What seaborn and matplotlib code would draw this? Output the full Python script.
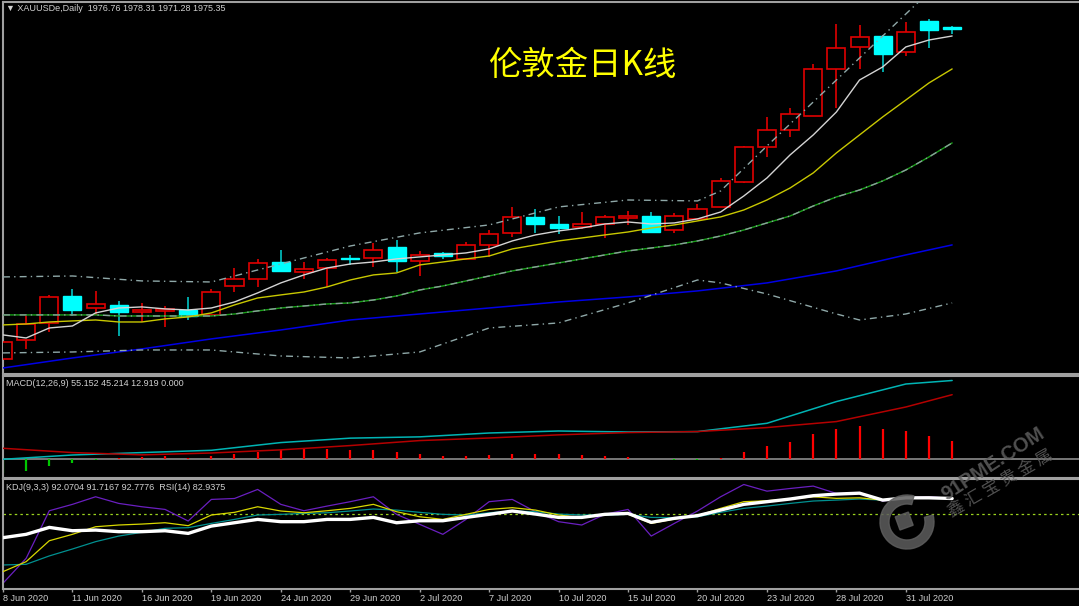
import numpy as np
import matplotlib
matplotlib.use("Agg")
import matplotlib.pyplot as plt
from matplotlib.patches import Wedge, Rectangle
import seaborn as sns

# ---------------- data ----------------
# daily candles, bar 0 = 8 Jun 2020 ... bar 41 = 4 Aug 2020
open_p = [1694.9, 1711.0, 1725.5, 1748.4, 1738.2, 1740.8, 1734.8, 1735.7, 1736.5, 1732.3,
          1756.9, 1762.9, 1777.3, 1768.8, 1772.2, 1780.7, 1780.7, 1790.1, 1778.2, 1785.0,
          1779.9, 1791.8, 1802.0, 1815.6, 1809.6, 1807.1, 1809.6, 1814.7, 1816.4, 1804.5,
          1813.9, 1824.1, 1845.3, 1875.1, 1889.5, 1901.4, 1941.4, 1960.1, 1969.4, 1955.8,
          1982.2, 1976.76]
high_p = [1712.7, 1731.4, 1749.3, 1754.4, 1752.7, 1744.2, 1742.5, 1739.9, 1747.6, 1754.4,
          1772.2, 1779.9, 1787.5, 1777.3, 1780.7, 1783.3, 1793.5, 1796.0, 1786.7, 1785.8,
          1794.3, 1804.5, 1824.1, 1822.4, 1816.4, 1819.8, 1817.3, 1820.7, 1819.8, 1819.0,
          1826.6, 1848.7, 1875.9, 1900.6, 1908.2, 1945.6, 1979.6, 1978.8, 1970.3, 1981.3,
          1983.9, 1978.31]
low_p = [1690.6, 1703.4, 1717.8, 1731.4, 1732.3, 1714.4, 1726.3, 1722.1, 1728.0, 1731.4,
         1751.8, 1756.1, 1768.8, 1762.9, 1756.1, 1774.8, 1773.1, 1768.8, 1765.4, 1779.9,
         1779.0, 1781.6, 1798.6, 1802.0, 1801.1, 1805.4, 1797.7, 1808.8, 1802.0, 1802.0,
         1813.9, 1824.1, 1844.5, 1866.6, 1883.6, 1901.4, 1908.2, 1941.4, 1938.8, 1952.4,
         1959.2, 1971.28]
close_p = [1709.3, 1724.6, 1747.6, 1736.5, 1741.6, 1734.8, 1736.5, 1737.4, 1731.4, 1751.8,
           1762.9, 1776.5, 1769.7, 1771.4, 1779.0, 1779.9, 1787.5, 1778.2, 1783.3, 1782.4,
           1791.8, 1801.1, 1815.6, 1809.6, 1806.2, 1809.6, 1815.6, 1816.4, 1802.8, 1816.4,
           1822.4, 1846.2, 1875.1, 1889.5, 1903.1, 1941.4, 1959.2, 1968.6, 1954.1, 1972.8,
           1974.5, 1975.35]

# moving averages (one value per bar)
ma_white = [1715.3, 1712.7, 1721.2, 1722.9, 1734.0, 1738.2, 1739.1, 1737.4, 1736.5, 1738.2,
            1743.3, 1751.0, 1759.5, 1766.3, 1772.2, 1775.6, 1777.3, 1779.9, 1781.6, 1783.3,
            1785.0, 1788.4, 1795.2, 1800.3, 1803.7, 1806.2, 1809.6, 1811.3, 1809.6, 1810.5,
            1813.9, 1819.8, 1833.4, 1848.7, 1868.3, 1885.3, 1904.8, 1932.0, 1943.1, 1960.1,
            1966.0, 1969.4]
ma_yellow = [1723.8, 1724.6, 1726.3, 1727.2, 1728.0, 1726.3, 1726.3, 1728.9, 1730.6, 1734.0,
             1740.8, 1746.7, 1749.3, 1751.8, 1756.1, 1762.0, 1766.3, 1768.0, 1774.8, 1777.3,
             1779.9, 1782.4, 1788.4, 1791.8, 1795.2, 1797.7, 1800.3, 1802.8, 1806.2, 1808.8,
             1812.2, 1815.6, 1821.5, 1830.0, 1840.2, 1853.0, 1870.0, 1885.3, 1900.6, 1915.0,
             1929.5, 1941.4]
ma_green = [1732.3, 1732.3, 1732.3, 1732.3, 1732.3, 1731.4, 1731.4, 1731.4, 1731.4, 1731.4,
            1733.1, 1735.7, 1738.2, 1739.9, 1741.6, 1742.5, 1745.0, 1748.4, 1753.5, 1756.9,
            1761.2, 1765.4, 1769.7, 1773.1, 1776.5, 1779.9, 1783.3, 1786.7, 1789.2, 1791.8,
            1795.2, 1799.4, 1804.5, 1810.5, 1816.4, 1824.9, 1832.6, 1838.5, 1846.2, 1855.5,
            1866.6, 1878.5]

# slow MA, read every few bars
blue_idx = [0, 3, 6, 9, 12, 15, 18, 21, 24, 27, 30, 33, 36, 39, 41]
ma_blue = [1687.2, 1695.7, 1703.4, 1711.9, 1719.5, 1728.0, 1733.1, 1738.2, 1743.3, 1747.6,
           1752.7, 1759.5, 1769.7, 1783.3, 1791.8]

# bollinger envelope
band_idx = [0, 3, 6, 9, 12, 15, 18, 21, 24, 27, 30, 31, 33, 36, 37, 39, 41]
bb_upper = [1764.6, 1765.4, 1761.2, 1760.3, 1775.6, 1790.9, 1802.0, 1808.8, 1824.1, 1830.0,
            1829.2, 1837.7, 1875.9, 1932.0, 1950.7, 1988.1, 2025.5]
bb_lower = [1700.0, 1700.8, 1702.5, 1702.5, 1697.4, 1695.7, 1700.8, 1721.2, 1725.5, 1742.5,
            1762.0, 1759.5, 1750.1, 1733.1, 1728.0, 1733.1, 1742.5]

# MACD(12,26,9)
macd_idx = [0, 3, 6, 9, 12, 15, 18, 21, 24, 27, 30, 33, 36, 39, 41]
macd_dif = [0.0, 3.0, 4.7, 6.3, 11.7, 14.8, 15.7, 18.4, 19.8, 19.1, 19.4, 25.2, 40.4, 52.7, 55.152]
macd_dea = [7.7, 4.7, 3.1, 4.4, 6.6, 9.6, 13.1, 14.9, 17.1, 18.7, 19.4, 22.2, 26.4, 36.6, 45.214]
macd_hist = [-9.3, -7.9, -4.4, -2.3, -0.2, 1.2, 1.4, 2.1, 1.2, 2.1,
             3.5, 5.4, 6.5, 7.0, 7.0, 6.5, 6.5, 5.1, 4.0, 2.6,
             2.6, 3.0, 4.0, 4.0, 3.5, 3.0, 2.3, 1.9, 0.1, -0.2,
             -0.2, 1.2, 5.4, 9.3, 12.4, 17.7, 21.0, 23.3, 21.2, 19.6,
             16.6, 12.919]

# KDJ(9,3,3) + RSI(14) window
kdj_white = [62.5, 65.0, 70.2, 67.7, 68.2, 67.0, 67.0, 67.7, 65.7, 71.2,
             73.7, 76.2, 74.5, 74.5, 76.2, 76.2, 77.7, 73.7, 75.2, 75.2,
             77.7, 80.0, 82.5, 80.2, 77.7, 77.7, 80.0, 80.7, 74.0, 77.0,
             79.0, 83.2, 87.5, 89.5, 91.5, 94.0, 95.2, 95.9, 90.7, 92.4,
             92.4, 91.9]
kdj_yellow = [37.0, 44.5, 60.2, 65.0, 70.7, 72.0, 72.7, 73.7, 71.5, 79.5,
              81.5, 85.7, 82.5, 81.2, 82.7, 84.5, 87.5, 82.0, 78.2, 76.2,
              80.0, 83.7, 85.0, 83.2, 79.5, 77.5, 80.2, 80.2, 73.2, 76.5,
              79.0, 84.5, 89.5, 90.2, 91.5, 93.2, 92.0, 92.4, 90.7, 92.4,
              92.7, 91.9]
kdj_teal = [42.0, 42.5, 48.8, 54.0, 59.5, 63.7, 66.5, 69.5, 70.0, 73.2,
            76.2, 79.5, 80.0, 80.7, 81.2, 82.5, 84.0, 83.2, 81.5, 80.0,
            79.5, 81.2, 82.5, 82.0, 80.2, 79.5, 79.5, 80.0, 77.7, 77.5,
            78.2, 81.5, 84.5, 86.2, 88.2, 90.0, 90.7, 91.5, 90.7, 92.4,
            92.4, 91.9]
kdj_purple = [28.3, 47.0, 82.7, 87.5, 93.2, 88.2, 85.7, 83.7, 75.0, 91.2,
              91.9, 98.7, 87.5, 82.7, 86.2, 89.5, 93.2, 80.0, 72.5, 65.0,
              76.2, 89.5, 91.2, 82.0, 74.5, 72.0, 80.0, 83.7, 63.7, 73.2,
              82.5, 93.2, 102.4, 97.4, 99.4, 101.2, 95.7, 95.7, 90.0, 92.4,
              93.2, 91.9]
kdj_level = 80

date_ticks = [0, 3, 6, 9, 12, 15, 18, 21, 24, 27, 30, 33, 36, 39]
date_labels = ["8 Jun 2020", "11 Jun 2020", "16 Jun 2020", "19 Jun 2020", "24 Jun 2020",
               "29 Jun 2020", "2 Jul 2020", "7 Jul 2020", "10 Jul 2020", "15 Jul 2020",
               "20 Jul 2020", "23 Jul 2020", "28 Jul 2020", "31 Jul 2020"]

# ---------------- style ----------------
sns.set_theme(style="dark", rc={"axes.facecolor": "black", "figure.facecolor": "black",
                                "axes.grid": False})
plt.rcParams['font.family'] = ['Liberation Sans', 'DejaVu Sans', 'Noto Sans CJK SC']

W, H = 1079, 606
fig = plt.figure(figsize=(W / 100, H / 100), dpi=100)
FRAME = '#a0a0a0'
LABEL = '#d0d0d0'


def panel(top, bottom):
    a = fig.add_axes([3 / W, 1 - bottom / H, 1076 / W, (bottom - top) / H])
    a.set_facecolor('black')
    for s in a.spines.values():
        s.set_color(FRAME)
        s.set_linewidth(1.5)
    a.spines['right'].set_visible(False)
    a.set_xlim(0, 46.48)
    a.set_yticks([])
    a.set_xticks([])
    return a


ax = panel(2, 373.5)
ax_macd = panel(376, 478)
ax_kdj = panel(478.5, 589.3)

bars = np.arange(len(close_p))
o = np.array(open_p); c = np.array(close_p)
hi = np.array(high_p); lo = np.array(low_p)
up = c >= o
dn = ~up

# ---------------- price panel ----------------
RED = '#e00000'
ax.vlines(bars[up], lo[up], hi[up], color=RED, lw=1.2, zorder=2)
ax.bar(bars[up], c[up] - o[up], bottom=o[up], width=0.78, facecolor='black',
       edgecolor=RED, linewidth=1.2, zorder=3)
ax.vlines(bars[dn], lo[dn], hi[dn], color='#00c4c4', lw=1.2, zorder=2)
ax.bar(bars[dn], c[dn] - o[dn], bottom=o[dn], width=0.78, facecolor='#00ffff',
       edgecolor='#00ffff', linewidth=1.0, zorder=3)

sns.lineplot(x=blue_idx, y=ma_blue, ax=ax, color='#0000e6', lw=1.1, zorder=4)
sns.lineplot(x=bars, y=ma_green, ax=ax, color='#19a019', lw=1.0, zorder=4)
sns.lineplot(x=bars, y=ma_green, ax=ax, color='#8a9c9c', lw=1.0, zorder=4,
             linestyle=(0, (5, 3, 1, 3)))
sns.lineplot(x=bars, y=ma_yellow, ax=ax, color='#c8c800', lw=1.0, zorder=4)
sns.lineplot(x=bars, y=ma_white, ax=ax, color='#d4d4d4', lw=1.0, zorder=4)
for band in (bb_upper, bb_lower):
    sns.lineplot(x=band_idx, y=band, ax=ax, color='#8fa8a8', lw=1.0, zorder=4,
                 linestyle=(0, (5, 3, 1, 3)))
ax.set_ylim(1682.5, 1998.3)
ax.set_xlim(0, 46.48)
ax.set(xlabel='', ylabel='')

# ---------------- MACD panel ----------------
h = np.array(macd_hist)
ax_macd.axhline(0, color='#8c8c8c', lw=1.2, zorder=1)
ax_macd.vlines(bars[h >= 0], 0, h[h >= 0], color='#ff0000', lw=1.6, zorder=2)
ax_macd.vlines(bars[h < 0], 0, h[h < 0], color='#00c800', lw=1.6, zorder=2)
sns.lineplot(x=macd_idx, y=macd_dif, ax=ax_macd, color='#00b4b4', lw=1.1, zorder=3)
sns.lineplot(x=macd_idx, y=macd_dea, ax=ax_macd, color='#b40000', lw=1.1, zorder=3)
ax_macd.set_ylim(-13.1, 58.3)
ax_macd.set_xlim(0, 46.48)
ax_macd.set(xlabel='', ylabel='')

# ---------------- KDJ / RSI panel ----------------
ax_kdj.axhline(kdj_level, color='#9ad21e', lw=0.9, linestyle=(0, (2, 2.5)), zorder=1)
sns.lineplot(x=bars, y=kdj_purple, ax=ax_kdj, color='#6a1fc0', lw=0.9, zorder=2)
sns.lineplot(x=bars, y=kdj_teal, ax=ax_kdj, color='#009090', lw=0.9, zorder=2)
sns.lineplot(x=bars, y=kdj_yellow, ax=ax_kdj, color='#d8d800', lw=0.9, zorder=3)
sns.lineplot(x=bars, y=kdj_white, ax=ax_kdj, color='#ffffff', lw=2.4, zorder=4)
ax_kdj.set_ylim(23.75, 106.9)
ax_kdj.set_xlim(0, 46.48)
ax_kdj.set(xlabel='', ylabel='')
ax_kdj.set_xticks(date_ticks)
ax_kdj.set_xticklabels(date_labels, ha='left', fontsize=6.6, color=LABEL)
ax_kdj.tick_params(axis='x', bottom=True, direction='out', length=2.5, width=1,
                   color=FRAME, pad=1)

# ---------------- texts ----------------
fig.text(6 / W, 1 - 8.3 / H,
         "\u25bc XAUUSDe,Daily  {:.2f} {:.2f} {:.2f} {:.2f}".format(
             open_p[-1], high_p[-1], low_p[-1], close_p[-1]),
         fontsize=6.5, color=LABEL, va='center', ha='left')
fig.text(6 / W, 1 - 384 / H, "MACD(12,26,9) 55.152 45.214 12.919 0.000",
         fontsize=6.5, color=LABEL, va='center', ha='left')
fig.text(6 / W, 1 - 487.5 / H, "KDJ(9,3,3) 92.0704 91.7167 92.7776  RSI(14) 82.9375",
         fontsize=6.5, color=LABEL, va='center', ha='left')
fig.text(488 / W, 1 - 66 / H, "伦敦金日K线", fontsize=24, color='#ffff00',
         family=['Noto Sans CJK SC'], va='center', ha='left')

# watermark
WM = '#5e5e5e'
fig.text(993 / W, 1 - 464 / H, "91PME.COM", fontsize=14.5, color=WM, weight='bold',
         rotation=33, rotation_mode='anchor', ha='center', va='center', alpha=0.85)
fig.text(1000 / W, 1 - 483 / H, "鑫 汇 宝 贵 金 属", fontsize=12, color=WM,
         family=['Noto Sans CJK SC'], rotation=30, rotation_mode='anchor',
         ha='center', va='center', alpha=0.85)
fig.patches.append(Wedge((9.07, 0.84), 0.27, 75, 375, width=0.09, color=WM, alpha=0.85,
                         transform=fig.dpi_scale_trans, figure=fig))
fig.patches.append(Rectangle((9.0, 0.76), 0.14, 0.14, angle=20, color=WM, alpha=0.85,
                             transform=fig.dpi_scale_trans, figure=fig))

fig.savefig("out.png", dpi=100, facecolor='black')
